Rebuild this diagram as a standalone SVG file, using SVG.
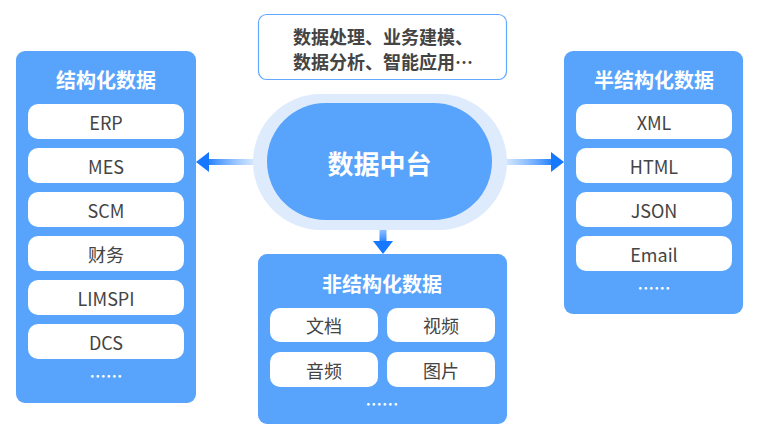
<svg xmlns="http://www.w3.org/2000/svg" width="760" height="440" viewBox="0 0 760 440">
<defs>
<style>
.panel{fill:#58a3fc}
.item{fill:#ffffff}
.title{font-family:"Noto Sans CJK SC","Noto Sans",sans-serif;font-weight:bold;font-size:20px;fill:#ffffff;text-anchor:middle;dominant-baseline:central}
.lbl{font-family:"Noto Sans CJK SC","Noto Sans",sans-serif;font-size:18px;fill:#444444;text-anchor:middle;dominant-baseline:central}
.dots{font-family:"Noto Sans CJK SC",sans-serif;font-size:16.5px;fill:#ffffff;text-anchor:middle;dominant-baseline:central;font-weight:bold}
.note{font-family:"Noto Sans CJK SC","Noto Sans",sans-serif;font-weight:bold;font-size:18px;fill:#444444;text-anchor:middle;dominant-baseline:central}
</style>
<linearGradient id="gl" gradientUnits="userSpaceOnUse" x1="262" y1="0" x2="205" y2="0">
<stop offset="0" stop-color="#6aaeff" stop-opacity="0.15"/>
<stop offset="1" stop-color="#1677ff"/>
</linearGradient>
<linearGradient id="gr" gradientUnits="userSpaceOnUse" x1="497" y1="0" x2="555" y2="0">
<stop offset="0" stop-color="#6aaeff" stop-opacity="0.15"/>
<stop offset="1" stop-color="#1677ff"/>
</linearGradient>
<linearGradient id="gd" gradientUnits="userSpaceOnUse" x1="0" y1="218" x2="0" y2="244">
<stop offset="0" stop-color="#6aaeff" stop-opacity="0.3"/>
<stop offset="1" stop-color="#1677ff"/>
</linearGradient>
</defs>
<rect width="760" height="440" fill="#ffffff"/>

<g id="connectors">
<rect x="207" y="159" width="56" height="6" fill="url(#gl)"/>
<polygon points="196,162 209,152 209,172" fill="#1677ff"/>
<rect x="496" y="159" width="57" height="6" fill="url(#gr)"/>
<polygon points="564,162 551,152 551,172" fill="#1677ff"/>
<rect x="379.5" y="216" width="7" height="27" fill="url(#gd)"/>
<polygon points="383,254 373,241 393,241" fill="#1677ff"/>
</g>

<g id="note">
<rect x="258.5" y="14.5" width="248" height="65" rx="8" fill="#ffffff" stroke="#62a8fd" stroke-width="1.2"/>
<text class="note" x="383" y="36">数据处理、业务建模、</text>
<text class="note" x="383" y="61">数据分析、智能应用…</text>
</g>

<g id="hub">
<rect x="253" y="94" width="254" height="136" rx="68" fill="#deebfd"/>
<rect x="267" y="103" width="225" height="117" rx="58.5" fill="#58a3fc"/>
<text x="379.5" y="162" font-family="'Noto Sans CJK SC','Noto Sans',sans-serif" font-weight="bold" font-size="26" fill="#ffffff" text-anchor="middle" dominant-baseline="central">数据中台</text>
</g>

<g id="structured">
<rect class="panel" x="16" y="51" width="180" height="352" rx="9"/>
<text class="title" x="106" y="79">结构化数据</text>
<rect class="item" x="28" y="104" width="156" height="35" rx="10"/>
<text class="lbl" x="106" y="121.5">ERP</text>
<rect class="item" x="28" y="148" width="156" height="35" rx="10"/>
<text class="lbl" x="106" y="165.5">MES</text>
<rect class="item" x="28" y="192" width="156" height="35" rx="10"/>
<text class="lbl" x="106" y="209.5">SCM</text>
<rect class="item" x="28" y="236" width="156" height="35" rx="10"/>
<text class="lbl" x="106" y="253.5">财务</text>
<rect class="item" x="28" y="280" width="156" height="35" rx="10"/>
<text class="lbl" x="106" y="297.5">LIMSPI</text>
<rect class="item" x="28" y="324" width="156" height="35" rx="10"/>
<text class="lbl" x="106" y="341.5">DCS</text>
<text class="dots" x="106" y="376">……</text>
</g>

<g id="semi">
<rect class="panel" x="564" y="51" width="179" height="263" rx="9"/>
<text class="title" x="654" y="79">半结构化数据</text>
<rect class="item" x="576" y="104" width="156" height="35" rx="10"/>
<text class="lbl" x="654" y="121.5">XML</text>
<rect class="item" x="576" y="148" width="156" height="35" rx="10"/>
<text class="lbl" x="654" y="165.5">HTML</text>
<rect class="item" x="576" y="192" width="156" height="35" rx="10"/>
<text class="lbl" x="654" y="209.5">JSON</text>
<rect class="item" x="576" y="236" width="156" height="35" rx="10"/>
<text class="lbl" x="654" y="253.5">Email</text>
<text class="dots" x="654" y="288">……</text>
</g>

<g id="unstructured">
<rect class="panel" x="258" y="254" width="249" height="170" rx="9"/>
<text class="title" x="382" y="283">非结构化数据</text>
<rect class="item" x="270" y="308" width="108" height="34" rx="10"/>
<text class="lbl" x="324" y="325">文档</text>
<rect class="item" x="387" y="308" width="108" height="34" rx="10"/>
<text class="lbl" x="441" y="325">视频</text>
<rect class="item" x="270" y="352" width="108" height="35" rx="10"/>
<text class="lbl" x="324" y="369.5">音频</text>
<rect class="item" x="387" y="352" width="108" height="35" rx="10"/>
<text class="lbl" x="441" y="369.5">图片</text>
<text class="dots" x="382" y="404">……</text>
</g>
</svg>
